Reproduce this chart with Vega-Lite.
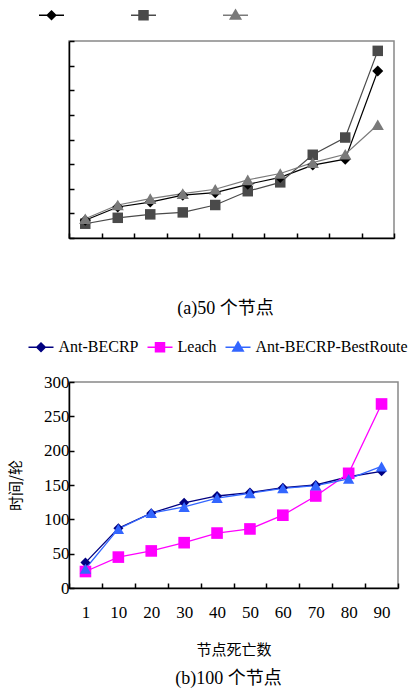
{
  "$schema": "https://vega.github.io/schema/vega-lite/v6.json",
  "background": "white",
  "padding": {"left": 7, "top": 0, "right": 5, "bottom": 2},
  "config": {
    "font": "Liberation Serif, Noto Sans CJK SC",
    "view": {"stroke": "#888888", "strokeWidth": 1.5},
    "axis": {"domainColor": "black", "domainWidth": 1.5, "tickColor": "black", "tickWidth": 1.5, "tickSize": -5, "grid": false, "labelFont": "Liberation Serif", "labelFontSize": 17, "labelColor": "black", "titleFont": "Noto Sans CJK SC", "titleFontWeight": "normal", "titleFontSize": 15, "titleColor": "black"},
    "legend": {"labelFont": "Liberation Serif", "labelFontSize": 16, "labelColor": "black", "labelOffset": 4, "symbolStrokeWidth": 1.5},
    "title": {"font": "Liberation Serif, Noto Sans CJK SC", "fontSize": 18, "fontWeight": "normal", "color": "black"},
    "concat": {"spacing": 13}
  },
  "resolve": {
    "scale": {"color": "independent", "fill": "independent", "stroke": "independent", "shape": "independent"},
    "legend": {"color": "independent", "fill": "independent", "stroke": "independent", "shape": "independent"}
  },
  "vconcat": [
    {
      "width": 325,
      "height": 197,
      "data": {"values": [
        {"n": 1, "series": "Ant-BECRP", "v": 36}, {"n": 10, "series": "Ant-BECRP", "v": 63}, {"n": 20, "series": "Ant-BECRP", "v": 73}, {"n": 30, "series": "Ant-BECRP", "v": 87}, {"n": 40, "series": "Ant-BECRP", "v": 92}, {"n": 50, "series": "Ant-BECRP", "v": 109}, {"n": 60, "series": "Ant-BECRP", "v": 123}, {"n": 70, "series": "Ant-BECRP", "v": 148}, {"n": 80, "series": "Ant-BECRP", "v": 160}, {"n": 90, "series": "Ant-BECRP", "v": 339},
        {"n": 1, "series": "Leach", "v": 29}, {"n": 10, "series": "Leach", "v": 41}, {"n": 20, "series": "Leach", "v": 48}, {"n": 30, "series": "Leach", "v": 52}, {"n": 40, "series": "Leach", "v": 67}, {"n": 50, "series": "Leach", "v": 95}, {"n": 60, "series": "Leach", "v": 113}, {"n": 70, "series": "Leach", "v": 169}, {"n": 80, "series": "Leach", "v": 204}, {"n": 90, "series": "Leach", "v": 380},
        {"n": 1, "series": "Ant-BECRP-BestRoute", "v": 39}, {"n": 10, "series": "Ant-BECRP-BestRoute", "v": 67}, {"n": 20, "series": "Ant-BECRP-BestRoute", "v": 80}, {"n": 30, "series": "Ant-BECRP-BestRoute", "v": 90}, {"n": 40, "series": "Ant-BECRP-BestRoute", "v": 99}, {"n": 50, "series": "Ant-BECRP-BestRoute", "v": 118}, {"n": 60, "series": "Ant-BECRP-BestRoute", "v": 131}, {"n": 70, "series": "Ant-BECRP-BestRoute", "v": 153}, {"n": 80, "series": "Ant-BECRP-BestRoute", "v": 170}, {"n": 90, "series": "Ant-BECRP-BestRoute", "v": 230}
      ]},
      "title": {"text": "(a)50 个节点", "orient": "bottom", "offset": 61, "dx": -6},
      "encoding": {
        "x": {"field": "n", "type": "ordinal", "scale": {"type": "band", "paddingInner": 0, "paddingOuter": 0}, "axis": {"labels": false, "title": null, "tickBand": "extent"}},
        "y": {"field": "v", "type": "quantitative", "scale": {"domain": [0, 400]}, "axis": {"labels": false, "title": null, "values": [0, 50, 100, 150, 200, 250, 300, 350, 400]}}
      },
      "layer": [
        {"mark": {"type": "line", "strokeWidth": 1.2},
         "encoding": {"color": {"field": "series", "type": "nominal", "scale": {"range": ["#000000", "#7a7a7a", "#4a4a4a"]}, "legend": null}}},
        {"transform": [{"filter": "datum.series === 'Leach'"}],
         "mark": {"type": "point", "filled": true, "opacity": 1, "shape": "square", "size": 110},
         "encoding": {"color": {"field": "series", "type": "nominal", "legend": null}}},
        {"transform": [{"filter": "datum.series === 'Ant-BECRP'"}],
         "mark": {"type": "point", "filled": true, "opacity": 1, "shape": "diamond", "size": 120},
         "encoding": {"color": {"field": "series", "type": "nominal", "legend": null}}},
        {"transform": [{"filter": "datum.series === 'Ant-BECRP-BestRoute'"}],
         "mark": {"type": "point", "filled": true, "opacity": 1, "shape": "triangle-up", "size": 150},
         "encoding": {"color": {"field": "series", "type": "nominal", "legend": null}}},
        {"mark": {"type": "point", "filled": true, "opacity": 0, "size": 625},
         "encoding": {
           "fill": {"field": "series", "type": "nominal", "scale": {"domain": ["Ant-BECRP", "Leach", "Ant-BECRP-BestRoute"], "range": ["#000000", "#4a4a4a", "#7a7a7a"]},
                    "legend": {"orient": "none", "legendX": -31, "legendY": -39.5, "direction": "horizontal", "title": null, "labelExpr": "''", "symbolSize": 625, "columnPadding": 59, "symbolOpacity": 1}},
           "stroke": {"field": "series", "type": "nominal", "scale": {"domain": ["Ant-BECRP", "Leach", "Ant-BECRP-BestRoute"], "range": ["#000000", "#4a4a4a", "#7a7a7a"]},
                    "legend": {"orient": "none", "legendX": -31, "legendY": -39.5, "direction": "horizontal", "title": null, "labelExpr": "''", "symbolSize": 625, "columnPadding": 59, "symbolOpacity": 1}},
           "shape": {"field": "series", "type": "nominal", "scale": {"domain": ["Ant-BECRP", "Leach", "Ant-BECRP-BestRoute"], "range": ["M-1,0H1M0,-0.34L0.34,0L0,0.34L-0.34,0Z", "M-1,0H1M-0.36,-0.36H0.36V0.36H-0.36Z", "M-1,0H1M0,-0.42L0.42,0.3H-0.42Z"]},
                    "legend": {"orient": "none", "legendX": -31, "legendY": -39.5, "direction": "horizontal", "title": null, "labelExpr": "''", "symbolSize": 625, "columnPadding": 59, "symbolOpacity": 1}}
         }}
      ]
    },
    {
      "width": 329,
      "height": 206,
      "data": {"values": [
        {"n": 1, "series": "Ant-BECRP", "v": 37}, {"n": 10, "series": "Ant-BECRP", "v": 87}, {"n": 20, "series": "Ant-BECRP", "v": 109}, {"n": 30, "series": "Ant-BECRP", "v": 124}, {"n": 40, "series": "Ant-BECRP", "v": 134}, {"n": 50, "series": "Ant-BECRP", "v": 139}, {"n": 60, "series": "Ant-BECRP", "v": 146}, {"n": 70, "series": "Ant-BECRP", "v": 150}, {"n": 80, "series": "Ant-BECRP", "v": 162}, {"n": 90, "series": "Ant-BECRP", "v": 170},
        {"n": 1, "series": "Leach", "v": 24}, {"n": 10, "series": "Leach", "v": 45}, {"n": 20, "series": "Leach", "v": 54}, {"n": 30, "series": "Leach", "v": 66}, {"n": 40, "series": "Leach", "v": 80}, {"n": 50, "series": "Leach", "v": 86}, {"n": 60, "series": "Leach", "v": 106}, {"n": 70, "series": "Leach", "v": 134}, {"n": 80, "series": "Leach", "v": 167}, {"n": 90, "series": "Leach", "v": 268},
        {"n": 1, "series": "Ant-BECRP-BestRoute", "v": 28}, {"n": 10, "series": "Ant-BECRP-BestRoute", "v": 86}, {"n": 20, "series": "Ant-BECRP-BestRoute", "v": 109}, {"n": 30, "series": "Ant-BECRP-BestRoute", "v": 118}, {"n": 40, "series": "Ant-BECRP-BestRoute", "v": 131}, {"n": 50, "series": "Ant-BECRP-BestRoute", "v": 138}, {"n": 60, "series": "Ant-BECRP-BestRoute", "v": 145}, {"n": 70, "series": "Ant-BECRP-BestRoute", "v": 149}, {"n": 80, "series": "Ant-BECRP-BestRoute", "v": 159}, {"n": 90, "series": "Ant-BECRP-BestRoute", "v": 177}
      ]},
      "title": {"text": "(b)100 个节点", "orient": "bottom", "offset": 13, "dx": -5},
      "encoding": {
        "x": {"field": "n", "type": "ordinal", "scale": {"type": "band", "paddingInner": 0, "paddingOuter": 0}, "axis": {"labelAngle": 0, "title": "节点死亡数", "tickBand": "extent", "labelPadding": 21, "titlePadding": 22}},
        "y": {"field": "v", "type": "quantitative", "scale": {"domain": [0, 300]}, "axis": {"title": "时间/轮", "values": [0, 50, 100, 150, 200, 250, 300], "labelPadding": 5, "titlePadding": 20}}
      },
      "layer": [
        {"mark": {"type": "line", "strokeWidth": 1.3},
         "encoding": {"color": {"field": "series", "type": "nominal", "scale": {"range": ["#000080", "#3366ff", "#ff00ff"]}, "legend": null}}},
        {"transform": [{"filter": "datum.series === 'Ant-BECRP'"}],
         "mark": {"type": "point", "filled": true, "opacity": 1, "shape": "diamond", "size": 100},
         "encoding": {"color": {"field": "series", "type": "nominal", "legend": null}}},
        {"transform": [{"filter": "datum.series === 'Leach'"}],
         "mark": {"type": "point", "filled": true, "opacity": 1, "shape": "square", "size": 135},
         "encoding": {"color": {"field": "series", "type": "nominal", "legend": null}}},
        {"transform": [{"filter": "datum.series === 'Ant-BECRP-BestRoute'"}],
         "mark": {"type": "point", "filled": true, "opacity": 1, "shape": "triangle-up", "size": 130},
         "encoding": {"color": {"field": "series", "type": "nominal", "legend": null}}},
        {"mark": {"type": "point", "filled": true, "opacity": 0, "size": 625},
         "encoding": {
           "fill": {"field": "series", "type": "nominal", "scale": {"domain": ["Ant-BECRP", "Leach", "Ant-BECRP-BestRoute"], "range": ["#000080", "#ff00ff", "#3366ff"]},
                    "legend": {"orient": "none", "legendX": -41.5, "legendY": -48.5, "direction": "horizontal", "title": null, "symbolSize": 625, "columnPadding": 5, "symbolOpacity": 1}},
           "stroke": {"field": "series", "type": "nominal", "scale": {"domain": ["Ant-BECRP", "Leach", "Ant-BECRP-BestRoute"], "range": ["#000080", "#ff00ff", "#3366ff"]},
                    "legend": {"orient": "none", "legendX": -41.5, "legendY": -48.5, "direction": "horizontal", "title": null, "symbolSize": 625, "columnPadding": 5, "symbolOpacity": 1}},
           "shape": {"field": "series", "type": "nominal", "scale": {"domain": ["Ant-BECRP", "Leach", "Ant-BECRP-BestRoute"], "range": ["M-1,0H1M0,-0.34L0.34,0L0,0.34L-0.34,0Z", "M-1,0H1M-0.36,-0.36H0.36V0.36H-0.36Z", "M-1,0H1M0,-0.42L0.42,0.3H-0.42Z"]},
                    "legend": {"orient": "none", "legendX": -41.5, "legendY": -48.5, "direction": "horizontal", "title": null, "symbolSize": 625, "columnPadding": 5, "symbolOpacity": 1}}
         }}
      ]
    }
  ]
}
